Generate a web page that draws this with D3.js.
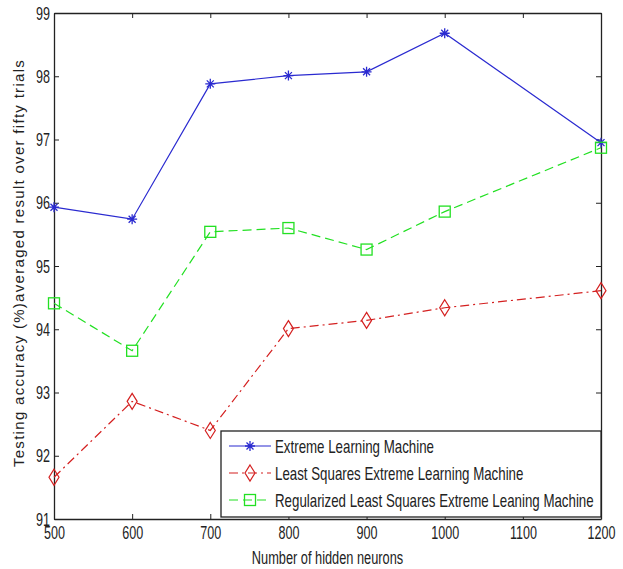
<!DOCTYPE html>
<html>
<head>
<meta charset="utf-8">
<script src="https://cdn.jsdelivr.net/npm/d3@7"></script>
<style>
  body { margin: 0; background: #fff; }
  svg { display: block; }
  text { font-family: "Liberation Sans", Arial, sans-serif; fill: #222; }
</style>
</head>
<body>
<svg id="chart" width="623" height="569"></svg>
<script>
// data
const neurons = [500, 600, 700, 800, 900, 1000, 1200];
const elm = [95.93, 95.74, 97.88, 98.01, 98.07, 98.68, 96.95];
const lselm = [91.66, 92.86, 92.40, 94.01, 94.14, 94.34, 94.61];
const rlselm = [94.41, 93.66, 95.54, 95.60, 95.26, 95.86, 96.87];
const xTicks = [500, 600, 700, 800, 900, 1000, 1100, 1200];
const yTicks = [91, 92, 93, 94, 95, 96, 97, 98, 99];
const seriesNames = [
    'Extreme Learning Machine',
    'Least Squares Extreme Learning Machine',
    'Regularized Least Squares Extreme Leaning Machine',
];

const series = [
    { name: seriesNames[0], values: elm, color: '#2a2ad0', dash: null, marker: 'star' },
    { name: seriesNames[1], values: lselm, color: '#d42020', dash: '9,4,2,4', marker: 'diamond' },
    { name: seriesNames[2], values: rlselm, color: '#22e022', dash: '9,5', marker: 'square' },
];

const margin = { left: 54, right: 22, top: 13, bottom: 50 };
const width = 623, height = 569;
const svg = d3.select('#chart');

// MATLAB's font looks condensed, squeeze the glyphs
function narrow(sel, k) {
    sel.each(function () {
        const w = this.getComputedTextLength();
        d3.select(this).attr('textLength', w * k).attr('lengthAdjust', 'spacingAndGlyphs');
    });
}

const x = d3.scaleLinear().domain([500, 1200]).range([margin.left, width - margin.right]);
const y = d3.scaleLinear().domain([91, 99]).range([height - margin.bottom, margin.top]);

// axes (ticks inside, box all round)
const tickLen = 5;
svg.append('g')
    .attr('transform', `translate(0,${y(91)})`)
    .call(d3.axisBottom(x).tickValues(xTicks).tickFormat(d3.format('d')).tickSizeInner(-tickLen).tickSizeOuter(0).tickPadding(7))
    .call(g => g.selectAll('text').style('font-size', '19px').attr('fill', '#222').call(narrow, 0.66));
svg.append('g')
    .attr('transform', `translate(0,${y(99)})`)
    .call(d3.axisTop(x).tickValues(xTicks).tickFormat('').tickSizeInner(-tickLen).tickSizeOuter(0));
svg.append('g')
    .attr('transform', `translate(${x(500)},0)`)
    .call(d3.axisLeft(y).tickValues(yTicks).tickFormat(d3.format('d')).tickSizeInner(-tickLen).tickSizeOuter(0).tickPadding(4))
    .call(g => g.selectAll('text').style('font-size', '19px').attr('fill', '#222').call(narrow, 0.66));
svg.append('g')
    .attr('transform', `translate(${x(1200)},0)`)
    .call(d3.axisRight(y).tickValues(yTicks).tickFormat('').tickSizeInner(-tickLen).tickSizeOuter(0));
svg.selectAll('.domain').attr('stroke', '#222').attr('stroke-width', 1.3);
svg.selectAll('.tick line').attr('stroke', '#222');

// labels
svg.append('text')
    .attr('x', (x(500) + x(1200)) / 2)
    .attr('y', 564)
    .attr('text-anchor', 'middle')
    .style('font-size', '18px')
    .text('Number of hidden neurons')
    .call(narrow, 0.71);
svg.append('text')
    .attr('transform', `translate(24,${(y(91) + y(99)) / 2 - 3}) rotate(-90)`)
    .attr('text-anchor', 'middle')
    .style('font-size', '15px')
    .style('letter-spacing', '1.3px')
    .text('Testing accuracy (%)averaged result over fifty trials');

function drawMarker(g, type, color) {
    if (type === 'star') {
        g.append('path')
            .attr('d', 'M-5,0H5M0,-5V5M-3.5,-3.5L3.5,3.5M-3.5,3.5L3.5,-3.5')
            .attr('stroke', color).attr('stroke-width', 1.3).attr('fill', 'none');
    } else if (type === 'diamond') {
        g.append('path')
            .attr('d', 'M0,-8L5,0L0,8L-5,0Z')
            .attr('stroke', color).attr('stroke-width', 1.2).attr('fill', 'none');
    } else {
        g.append('rect')
            .attr('x', -5.5).attr('y', -5.5).attr('width', 11).attr('height', 11)
            .attr('stroke', color).attr('stroke-width', 1.3).attr('fill', 'none');
    }
}

const line = d3.line().x(d => x(d[0])).y(d => y(d[1]));

series.forEach(s => {
    const pts = neurons.map((n, i) => [n, s.values[i]]);
    svg.append('path')
        .datum(pts)
        .attr('d', line)
        .attr('fill', 'none')
        .attr('stroke', s.color)
        .attr('stroke-width', 1.2)
        .attr('stroke-dasharray', s.dash);
    svg.append('g')
        .selectAll('g')
        .data(pts)
        .join('g')
        .attr('transform', d => `translate(${x(d[0])},${y(d[1])})`)
        .each(function () { drawMarker(d3.select(this), s.marker, s.color); });
});

// legend
const legend = svg.append('g').attr('transform', 'translate(221,431)');
legend.append('rect')
    .attr('width', x(1200) - 221).attr('height', 86)
    .attr('fill', '#fff').attr('stroke', '#222').attr('stroke-width', 1.3);
series.forEach((s, i) => {
    const row = legend.append('g').attr('transform', `translate(0,${15 + i * 27})`);
    row.append('line')
        .attr('x1', 8).attr('x2', 50)
        .attr('stroke', s.color).attr('stroke-width', 1.2)
        .attr('stroke-dasharray', s.dash);
    drawMarker(row.append('g').attr('transform', 'translate(29,0)'), s.marker, s.color);
    row.append('text')
        .attr('x', 54).attr('y', 7)
        .style('font-size', '19px')
        .text(s.name)
        .call(narrow, 0.7);
});
</script>
</body>
</html>
